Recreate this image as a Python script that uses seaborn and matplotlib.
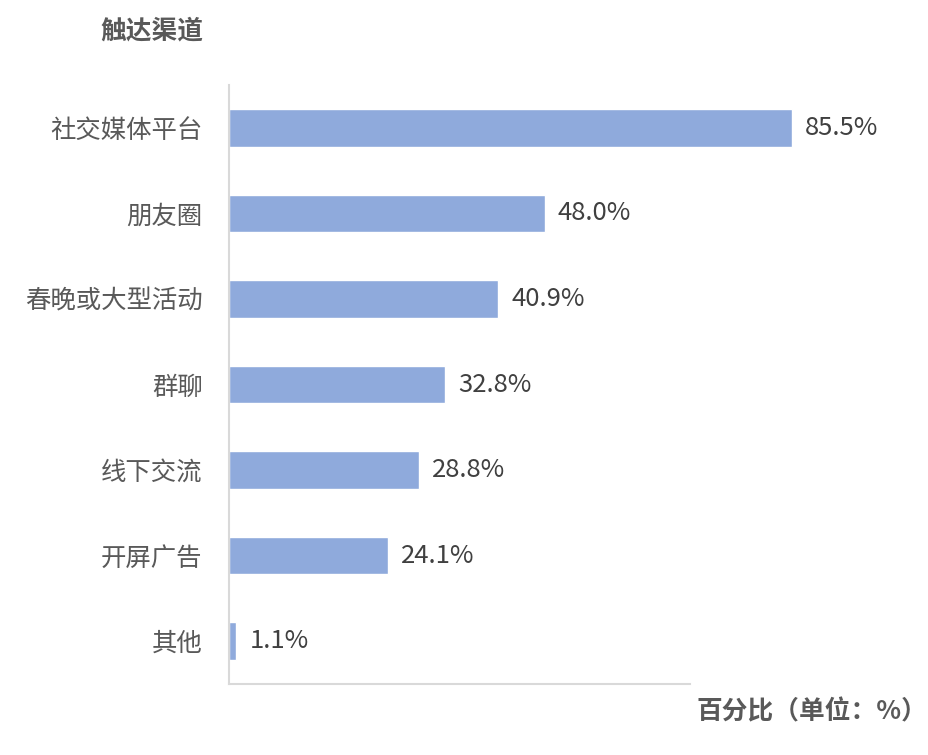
import numpy as np
import pandas as pd
import matplotlib
matplotlib.use("Agg")
import matplotlib.pyplot as plt
import seaborn as sns

# data
channels = ["社交媒体平台", "朋友圈", "春晚或大型活动", "群聊", "线下交流", "开屏广告", "其他"]
shares = [85.5, 48.0, 40.9, 32.8, 28.8, 24.1, 1.1]

df = pd.DataFrame({"channel": channels, "share": shares})

sns.set_theme(style="white")
plt.rcParams["font.family"] = ["Noto Sans CJK SC", "DejaVu Sans"]

fig = plt.figure(figsize=(9.29, 7.55), dpi=100)
ax = fig.add_axes([229 / 929, 1 - 684 / 755, (887 - 229) / 929, (684 - 85) / 755])

sns.barplot(data=df, x="share", y="channel", color="#8FAADC", saturation=1,
            width=0.44, ax=ax)

ax.set_xlim(0, 100)
ax.set_ylim(6.5, -0.5)

for i, v in enumerate(shares):
    ax.text(v + 2.0, i, f"{v:.1f}%", va="center", ha="left",
            fontsize=18.5, color="#404040")

# axes styling
for s in ["top", "right"]:
    ax.spines[s].set_visible(False)
for s in ["left", "bottom"]:
    ax.spines[s].set_color("#D9D9D9")
    ax.spines[s].set_linewidth(1.5)
ax.spines["bottom"].set_bounds(0, 70)

ax.set_xticks([])
ax.tick_params(axis="y", length=0, pad=19, labelsize=18.3, labelcolor="#595959")
ax.set_xlabel("")
ax.set_ylabel("")

fig.text(203 / 929, 1 - 31 / 755, "触达渠道", ha="right", va="center",
         fontsize=18.5, fontweight="bold", color="#595959")
fig.text(697 / 929, 1 - 712 / 755, "百分比（单位：%）", ha="left", va="center",
         fontsize=18.5, fontweight="bold", color="#595959")

fig.savefig("out.png", dpi=100)
